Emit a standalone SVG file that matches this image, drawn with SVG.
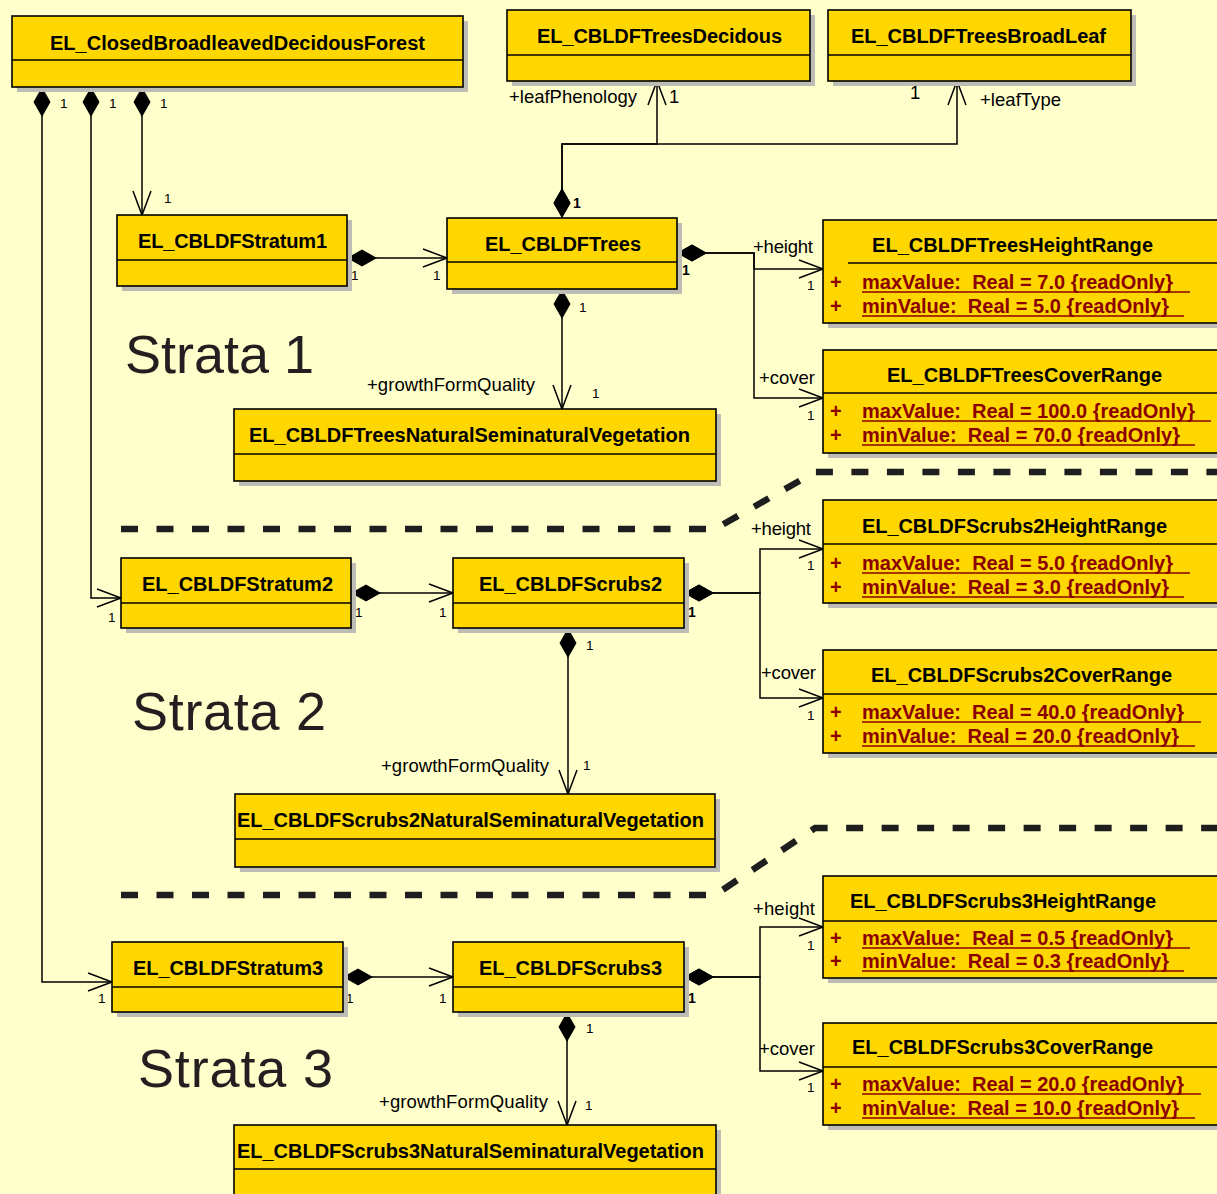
<svg xmlns="http://www.w3.org/2000/svg" width="1217" height="1194" viewBox="0 0 1217 1194">
  <style>
    .shadow { fill: #BDBDB6; }
    .box { fill: #FFD700; stroke: #000; stroke-width: 1.6; }
    .div { stroke: #000; stroke-width: 1.4; }
    .title { font-family: "Liberation Sans", Arial, sans-serif; font-weight: bold; font-size: 20px; fill: #000; }
    .attr { font-family: "Liberation Sans", Arial, sans-serif; font-weight: bold; font-size: 20px; fill: #8B0000; }
    .ul { stroke: #8B0000; stroke-width: 1.5; }
    .role { font-family: "Liberation Sans", Arial, sans-serif; font-size: 18.5px; fill: #000; }
    .mult { font-family: "Liberation Sans", Arial, sans-serif; font-size: 13.5px; fill: #000; }
    .multb { font-family: "Liberation Sans", Arial, sans-serif; font-size: 14px; font-weight: bold; fill: #000; }
    .strata { font-family: "Liberation Sans", Arial, sans-serif; font-size: 54px; fill: #231F20; }
    .conn { fill: none; stroke: #000; stroke-width: 1.5; marker-start: url(#diamond); marker-end: url(#open); }
    .sep { fill: none; stroke: #1E1E1E; stroke-width: 6.5; stroke-dasharray: 17 18.5; }
  </style>
  <defs>
    <marker id="diamond" markerUnits="userSpaceOnUse" orient="auto" refX="0" refY="0" markerWidth="32" markerHeight="18" overflow="visible">
      <path d="M0,0 L15,-8.5 L30,0 L15,8.5 Z" fill="#000"/>
    </marker>
    <marker id="open" markerUnits="userSpaceOnUse" orient="auto" refX="0" refY="0" markerWidth="26" markerHeight="20" overflow="visible">
      <path d="M-24,-9 L0,0 L-24,9" fill="none" stroke="#000" stroke-width="1.5"/>
    </marker>
  </defs>

  <rect width="1217" height="1194" fill="#FFFFCC"/>

  <!-- stratum separators -->
  <path class="sep" d="M121,529 H715 L815,472 H1217"/>
  <path class="sep" d="M121,895 H715 L815,828 H1217"/>

  <!-- stratum captions -->
  <text class="strata" x="125" y="373">Strata 1</text>
  <text class="strata" x="132" y="730" textLength="194">Strata 2</text>
  <text class="strata" x="138" y="1087" textLength="195">Strata 3</text>

  <!-- connectors -->
  <g id="connectors">
    <path class="conn" d="M142,87 V215"/>
    <path class="conn" d="M91,87 V598 H121"/>
    <path class="conn" d="M42,87 V982 H112"/>
    <path class="conn" d="M562,218 V144 H657 V81"/>
    <path class="conn" d="M562,218 V144 H957 V81"/>
    <path class="conn" d="M347,258 H447"/>
    <path class="conn" d="M562,289 V409"/>
    <path class="conn" d="M677,253 H754 V269 H823"/>
    <path class="conn" d="M677,253 H754 V398 H823"/>
    <path class="conn" d="M351,593 H453"/>
    <path class="conn" d="M684,593 H760 V549 H823"/>
    <path class="conn" d="M684,593 H760 V698 H823"/>
    <path class="conn" d="M568,628 V794"/>
    <path class="conn" d="M343,977 H453"/>
    <path class="conn" d="M684,977 H760 V927 H823"/>
    <path class="conn" d="M684,977 H760 V1071 H823"/>
    <path class="conn" d="M567,1012 V1125"/>

    <!-- role names -->
    <text class="role" x="509" y="103" textLength="128">+leafPhenology</text>
    <text class="role" x="980" y="106" textLength="81">+leafType</text>
    <text class="role" x="753" y="253" textLength="60">+height</text>
    <text class="role" x="759" y="384" textLength="56">+cover</text>
    <text class="role" x="367" y="391" textLength="168">+growthFormQuality</text>
    <text class="role" x="751" y="535" textLength="60">+height</text>
    <text class="role" x="761" y="679" textLength="55">+cover</text>
    <text class="role" x="381" y="772" textLength="168">+growthFormQuality</text>
    <text class="role" x="753" y="915" textLength="62">+height</text>
    <text class="role" x="759" y="1055" textLength="56">+cover</text>
    <text class="role" x="379" y="1108" textLength="169">+growthFormQuality</text>

    <!-- multiplicities -->
    <text class="mult" x="60" y="108">1</text>
    <text class="mult" x="109" y="108">1</text>
    <text class="mult" x="160" y="108">1</text>
    <text class="mult" x="164" y="203">1</text>
    <text class="role" x="669" y="103">1</text>
    <text class="role" x="910" y="99">1</text>
    <text class="multb" x="573" y="208">1</text>
    <text class="mult" x="351" y="280">1</text>
    <text class="mult" x="433" y="280">1</text>
    <text class="multb" x="682" y="275">1</text>
    <text class="mult" x="579" y="312">1</text>
    <text class="mult" x="592" y="398">1</text>
    <text class="mult" x="807" y="290">1</text>
    <text class="mult" x="807" y="420">1</text>

    <text class="mult" x="108" y="622">1</text>
    <text class="mult" x="355" y="617">1</text>
    <text class="mult" x="439" y="617">1</text>
    <text class="multb" x="688" y="617">1</text>
    <text class="mult" x="586" y="650">1</text>
    <text class="mult" x="583" y="770">1</text>
    <text class="mult" x="807" y="570">1</text>
    <text class="mult" x="807" y="720">1</text>

    <text class="mult" x="98" y="1003">1</text>
    <text class="mult" x="346" y="1003">1</text>
    <text class="mult" x="439" y="1003">1</text>
    <text class="multb" x="688" y="1003">1</text>
    <text class="mult" x="586" y="1033">1</text>
    <text class="mult" x="585" y="1110">1</text>
    <text class="mult" x="807" y="950">1</text>
    <text class="mult" x="807" y="1092">1</text>
  </g>

  <!-- classes -->
  <g id="closedBroadleavedDecidousForest">
    <rect class="shadow" x="17" y="21" width="451" height="71"/>
    <rect class="box" x="12" y="16" width="451" height="71"/>
    <line class="div" x1="12" y1="60" x2="463" y2="60"/>
    <text class="title" x="50" y="50" textLength="375">EL_ClosedBroadleavedDecidousForest</text>
  </g>

  <g id="treesDecidous">
    <rect class="shadow" x="512" y="15" width="303" height="71"/>
    <rect class="box" x="507" y="10" width="303" height="71"/>
    <line class="div" x1="507" y1="55" x2="810" y2="55"/>
    <text class="title" x="537" y="43" textLength="245">EL_CBLDFTreesDecidous</text>
  </g>

  <g id="treesBroadLeaf">
    <rect class="shadow" x="833" y="15" width="303" height="71"/>
    <rect class="box" x="828" y="10" width="303" height="71"/>
    <line class="div" x1="828" y1="55" x2="1131" y2="55"/>
    <text class="title" x="851" y="43" textLength="255">EL_CBLDFTreesBroadLeaf</text>
  </g>

  <g id="stratum1">
    <rect class="shadow" x="122" y="220" width="230" height="71"/>
    <rect class="box" x="117" y="215" width="230" height="71"/>
    <line class="div" x1="117" y1="260" x2="347" y2="260"/>
    <text class="title" x="138" y="248" textLength="189">EL_CBLDFStratum1</text>
  </g>

  <g id="trees">
    <rect class="shadow" x="452" y="223" width="230" height="71"/>
    <rect class="box" x="447" y="218" width="230" height="71"/>
    <line class="div" x1="447" y1="262" x2="677" y2="262"/>
    <text class="title" x="485" y="251" textLength="156">EL_CBLDFTrees</text>
  </g>

  <g id="treesNaturalSeminaturalVegetation">
    <rect class="shadow" x="239" y="414" width="482" height="72"/>
    <rect class="box" x="234" y="409" width="482" height="72"/>
    <line class="div" x1="234" y1="454" x2="716" y2="454"/>
    <text class="title" x="249" y="442" textLength="441">EL_CBLDFTreesNaturalSeminaturalVegetation</text>
  </g>

  <g id="treesHeightRange">
    <rect class="shadow" x="828" y="225" width="420" height="103"/>
    <rect class="box" x="823" y="220" width="420" height="103"/>
    <line class="div" x1="848" y1="263" x2="1243" y2="263"/>
    <text class="title" x="872" y="252" textLength="281">EL_CBLDFTreesHeightRange</text>
    <text class="attr" x="830" y="289">+</text>
    <text class="attr" x="862" y="289" textLength="311" xml:space="preserve">maxValue:  Real = 7.0 {readOnly}</text>
    <line class="ul" x1="862" y1="292" x2="1190" y2="292"/>
    <text class="attr" x="830" y="313">+</text>
    <text class="attr" x="862" y="313" textLength="307" xml:space="preserve">minValue:  Real = 5.0 {readOnly}</text>
    <line class="ul" x1="862" y1="316" x2="1184" y2="316"/>
  </g>

  <g id="treesCoverRange">
    <rect class="shadow" x="828" y="355" width="420" height="103"/>
    <rect class="box" x="823" y="350" width="420" height="103"/>
    <line class="div" x1="823" y1="393" x2="1243" y2="393"/>
    <text class="title" x="887" y="382" textLength="275">EL_CBLDFTreesCoverRange</text>
    <text class="attr" x="830" y="418">+</text>
    <text class="attr" x="862" y="418" textLength="333" xml:space="preserve">maxValue:  Real = 100.0 {readOnly}</text>
    <line class="ul" x1="862" y1="421" x2="1211" y2="421"/>
    <text class="attr" x="830" y="442">+</text>
    <text class="attr" x="862" y="442" textLength="318" xml:space="preserve">minValue:  Real = 70.0 {readOnly}</text>
    <line class="ul" x1="862" y1="445" x2="1195" y2="445"/>
  </g>

  <g id="stratum2">
    <rect class="shadow" x="126" y="563" width="230" height="70"/>
    <rect class="box" x="121" y="558" width="230" height="70"/>
    <line class="div" x1="121" y1="603" x2="351" y2="603"/>
    <text class="title" x="142" y="591" textLength="191">EL_CBLDFStratum2</text>
  </g>

  <g id="scrubs2">
    <rect class="shadow" x="458" y="563" width="231" height="70"/>
    <rect class="box" x="453" y="558" width="231" height="70"/>
    <line class="div" x1="453" y1="603" x2="684" y2="603"/>
    <text class="title" x="479" y="591" textLength="183">EL_CBLDFScrubs2</text>
  </g>

  <g id="scrubs2HeightRange">
    <rect class="shadow" x="828" y="505" width="420" height="103"/>
    <rect class="box" x="823" y="500" width="420" height="103"/>
    <line class="div" x1="823" y1="544" x2="1243" y2="544"/>
    <text class="title" x="862" y="533" textLength="305">EL_CBLDFScrubs2HeightRange</text>
    <text class="attr" x="830" y="570">+</text>
    <text class="attr" x="862" y="570" textLength="311" xml:space="preserve">maxValue:  Real = 5.0 {readOnly}</text>
    <line class="ul" x1="862" y1="573" x2="1190" y2="573"/>
    <text class="attr" x="830" y="594">+</text>
    <text class="attr" x="862" y="594" textLength="307" xml:space="preserve">minValue:  Real = 3.0 {readOnly}</text>
    <line class="ul" x1="862" y1="597" x2="1184" y2="597"/>
  </g>

  <g id="scrubs2CoverRange">
    <rect class="shadow" x="828" y="655" width="420" height="103"/>
    <rect class="box" x="823" y="650" width="420" height="103"/>
    <line class="div" x1="823" y1="694" x2="1243" y2="694"/>
    <text class="title" x="871" y="682" textLength="301">EL_CBLDFScrubs2CoverRange</text>
    <text class="attr" x="830" y="719">+</text>
    <text class="attr" x="862" y="719" textLength="322" xml:space="preserve">maxValue:  Real = 40.0 {readOnly}</text>
    <line class="ul" x1="862" y1="722" x2="1201" y2="722"/>
    <text class="attr" x="830" y="743">+</text>
    <text class="attr" x="862" y="743" textLength="317" xml:space="preserve">minValue:  Real = 20.0 {readOnly}</text>
    <line class="ul" x1="862" y1="746" x2="1195" y2="746"/>
  </g>

  <g id="scrubs2NaturalSeminaturalVegetation">
    <rect class="shadow" x="240" y="799" width="480" height="73"/>
    <rect class="box" x="235" y="794" width="480" height="73"/>
    <line class="div" x1="235" y1="839" x2="715" y2="839"/>
    <text class="title" x="237" y="827" textLength="467">EL_CBLDFScrubs2NaturalSeminaturalVegetation</text>
  </g>

  <g id="stratum3">
    <rect class="shadow" x="117" y="947" width="231" height="70"/>
    <rect class="box" x="112" y="942" width="231" height="70"/>
    <line class="div" x1="112" y1="987" x2="343" y2="987"/>
    <text class="title" x="133" y="975" textLength="190">EL_CBLDFStratum3</text>
  </g>

  <g id="scrubs3">
    <rect class="shadow" x="458" y="947" width="231" height="70"/>
    <rect class="box" x="453" y="942" width="231" height="70"/>
    <line class="div" x1="453" y1="987" x2="684" y2="987"/>
    <text class="title" x="479" y="975" textLength="183">EL_CBLDFScrubs3</text>
  </g>

  <g id="scrubs3HeightRange">
    <rect class="shadow" x="828" y="881" width="420" height="102"/>
    <rect class="box" x="823" y="876" width="420" height="102"/>
    <line class="div" x1="823" y1="921" x2="1243" y2="921"/>
    <text class="title" x="850" y="908" textLength="306">EL_CBLDFScrubs3HeightRange</text>
    <text class="attr" x="830" y="945">+</text>
    <text class="attr" x="862" y="945" textLength="311" xml:space="preserve">maxValue:  Real = 0.5 {readOnly}</text>
    <line class="ul" x1="862" y1="948" x2="1190" y2="948"/>
    <text class="attr" x="830" y="968">+</text>
    <text class="attr" x="862" y="968" textLength="307" xml:space="preserve">minValue:  Real = 0.3 {readOnly}</text>
    <line class="ul" x1="862" y1="971" x2="1184" y2="971"/>
  </g>

  <g id="scrubs3CoverRange">
    <rect class="shadow" x="828" y="1028" width="420" height="102"/>
    <rect class="box" x="823" y="1023" width="420" height="102"/>
    <line class="div" x1="823" y1="1067" x2="1243" y2="1067"/>
    <text class="title" x="852" y="1054" textLength="301">EL_CBLDFScrubs3CoverRange</text>
    <text class="attr" x="830" y="1091">+</text>
    <text class="attr" x="862" y="1091" textLength="322" xml:space="preserve">maxValue:  Real = 20.0 {readOnly}</text>
    <line class="ul" x1="862" y1="1094" x2="1201" y2="1094"/>
    <text class="attr" x="830" y="1115">+</text>
    <text class="attr" x="862" y="1115" textLength="317" xml:space="preserve">minValue:  Real = 10.0 {readOnly}</text>
    <line class="ul" x1="862" y1="1118" x2="1195" y2="1118"/>
  </g>

  <g id="scrubs3NaturalSeminaturalVegetation">
    <rect class="shadow" x="239" y="1130" width="482" height="80"/>
    <rect class="box" x="234" y="1125" width="482" height="80"/>
    <line class="div" x1="234" y1="1169" x2="716" y2="1169"/>
    <text class="title" x="237" y="1158" textLength="467">EL_CBLDFScrubs3NaturalSeminaturalVegetation</text>
  </g>
</svg>
